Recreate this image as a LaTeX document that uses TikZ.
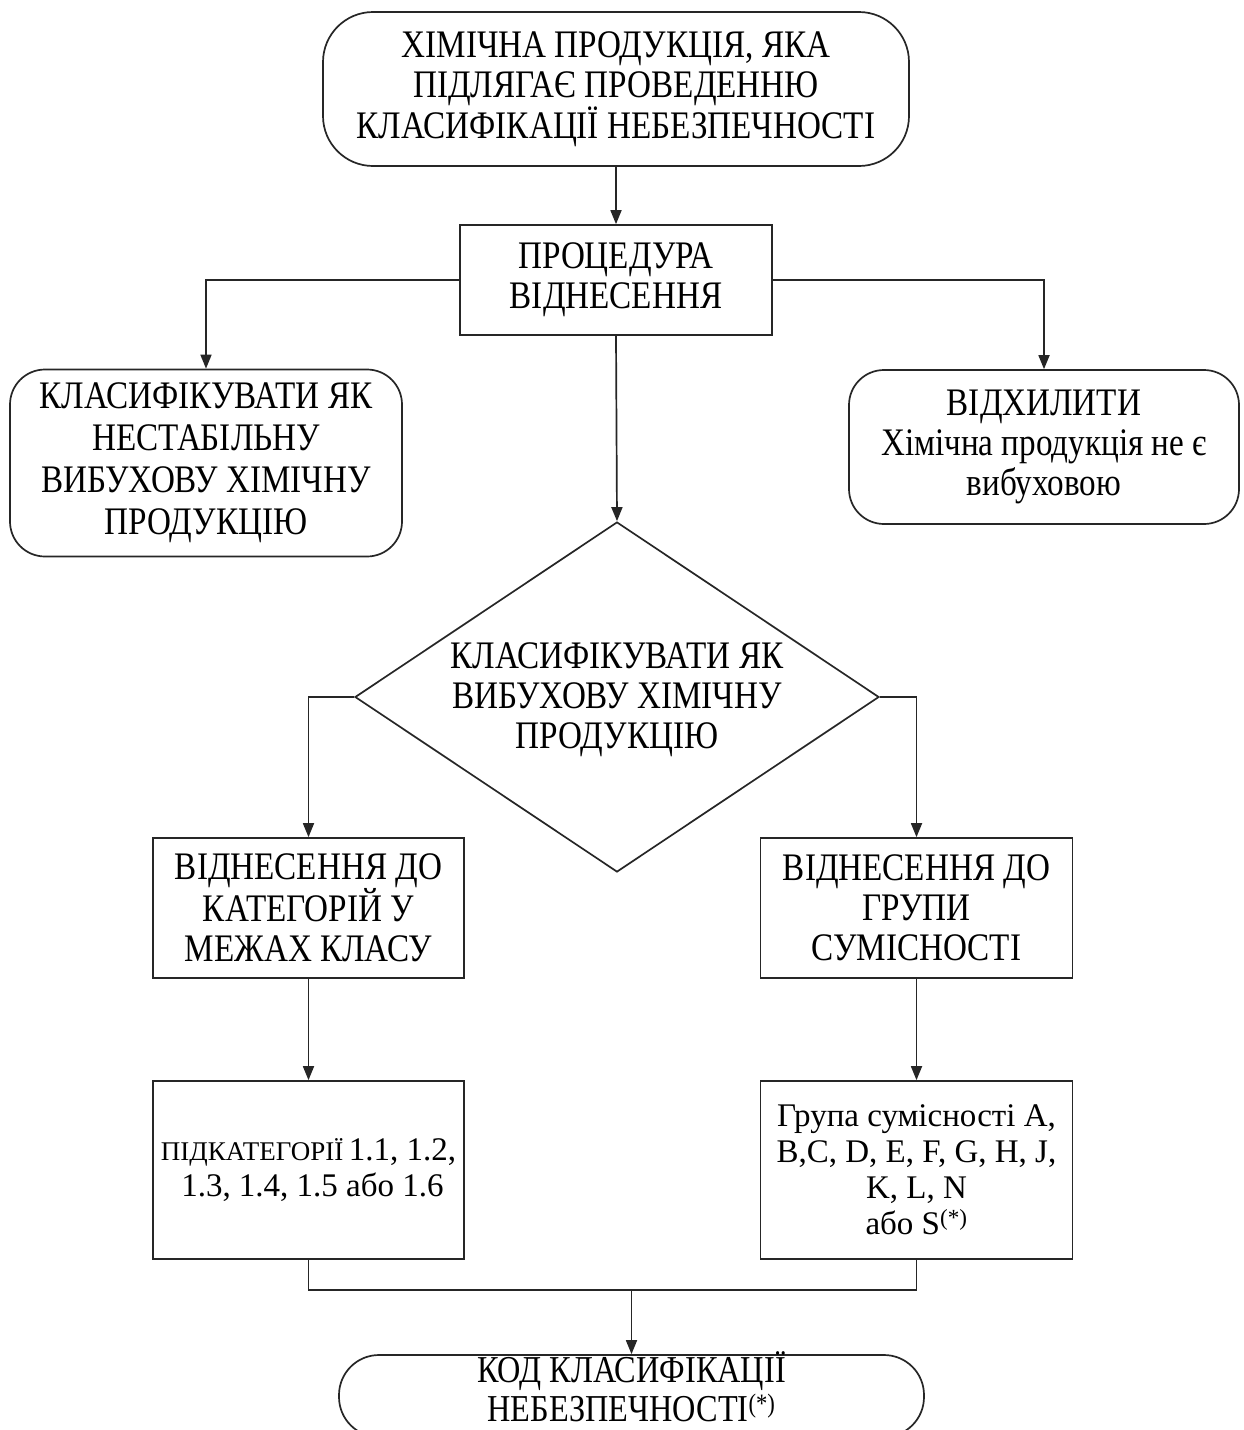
\documentclass[tikz,border=0pt]{standalone}
\usepackage{fontspec}
\setmainfont{Liberation Serif}
\newfontfamily\capf{Liberation Serif}[FakeStretch=0.85]
\usetikzlibrary{shapes.geometric,arrows.meta}
\tikzset{
  box/.style={draw=black!85, line width=1.7pt, align=center, inner sep=0pt, text=black},
  bigtxt/.style={font=\capf\fontsize{39}{40}\selectfont},
  smtxt/.style={font=\fontsize{33}{36}\selectfont},
  termtop/.style={box, bigtxt, rounded corners=50pt},
  termside/.style={box, bigtxt, rounded corners=35pt},
  termbot/.style={box, bigtxt, rounded corners=40pt},
  procbox/.style={box, bigtxt},
  decbox/.style={box, diamond, shape aspect=1.5},
  lbl/.style={bigtxt, align=center, inner sep=0pt, text=black},
  conn/.style={draw=black!85, line width=1.7pt},
  arr/.style={conn, -{Triangle[length=14pt,width=11pt]}}
}
\begin{document}
\begin{tikzpicture}[x=1pt,y=-1pt]
\useasboundingbox (0,0) rectangle (1244,1430);
\clip (0,0) rectangle (1244,1430);
\fill[white] (0,0) rectangle (1244,1430);

\node[termtop, minimum width=586pt, minimum height=154pt] (top) at (616,89)
  {\raisebox{-3pt}{\parbox{586pt}{\centering ХІМІЧНА ПРОДУКЦІЯ, ЯКА\\ ПІДЛЯГАЄ ПРОВЕДЕННЮ\\ КЛАСИФІКАЦІЇ НЕБЕЗПЕЧНОСТІ}}};

\node[procbox, minimum width=312pt, minimum height=110pt] (proc) at (616,280)
  {ПРОЦЕДУРА\\ ВІДНЕСЕННЯ};

\node[termside, minimum width=392pt, minimum height=187pt,
      font=\capf\fontsize{39}{42}\selectfont] (left) at (206,463)
  {КЛАСИФІКУВАТИ ЯК\\ НЕСТАБІЛЬНУ\\ ВИБУХОВУ ХІМІЧНУ\\ ПРОДУКЦІЮ};

\node[termside, minimum width=390pt, minimum height=154pt] (right) at (1044,447)
  {\raisebox{-4pt}{\parbox{380pt}{\centering ВІДХИЛИТИ\\ Хімічна продукція не є\\ вибуховою}}};

\node[decbox, minimum width=524pt, minimum height=350pt] (dec) at (617,697) {};
\node[lbl] (decl) at (617,700)
  {КЛАСИФІКУВАТИ ЯК\\ ВИБУХОВУ ХІМІЧНУ\\ ПРОДУКЦІЮ};

\node[procbox, minimum width=311pt, minimum height=140pt] (midL) at (308.5,908)
  {ВІДНЕСЕННЯ ДО\\ КАТЕГОРІЙ У\\ МЕЖАХ КЛАСУ};

\node[procbox, minimum width=312pt, minimum height=140pt] (midR) at (916.5,908)
  {ВІДНЕСЕННЯ ДО\\ ГРУПИ\\ СУМІСНОСТІ};

\node[box, smtxt, minimum width=311pt, minimum height=178pt] (lowL) at (308.5,1170)
  {{\fontsize{27}{36}\selectfont ПІДКАТЕГОРІЇ}\,1.1, 1.2,\\ \hspace*{8pt}1.3, 1.4, 1.5 або 1.6};

\node[box, smtxt, minimum width=312pt, minimum height=178pt] (lowR) at (916.5,1170)
  {Група сумісності А,\\ B,C, D, E, F, G, H, J,\\ K, L, N\\ або S\textsuperscript{(*)}};

\node[termbot, minimum width=585pt, minimum height=82pt] (bot) at (631.5,1396) {};
\node[lbl, font=\capf\fontsize{38}{39}\selectfont] (botl) at (631.5,1387)
  {КОД КЛАСИФІКАЦІЇ\\ НЕБЕЗПЕЧНОСТІ\textsuperscript{(*)}};

\coordinate (j) at (631.5,1290);

\draw[arr] (top.south) -- (proc.north);
\draw[arr] (proc.west) -| (left.north);
\draw[arr] (proc.east) -| (right.north);
\draw[arr] (proc.south) -- (dec.north);
\draw[arr] (dec.west) -| (midL.north);
\draw[arr] (dec.east) -| (midR.north);
\draw[arr] (midL.south) -- (lowL.north);
\draw[arr] (midR.south) -- (lowR.north);
\draw[conn] (lowL.south) |- (j) -| (lowR.south);
\draw[arr] (j) -- (bot.north);
\end{tikzpicture}
\end{document}
